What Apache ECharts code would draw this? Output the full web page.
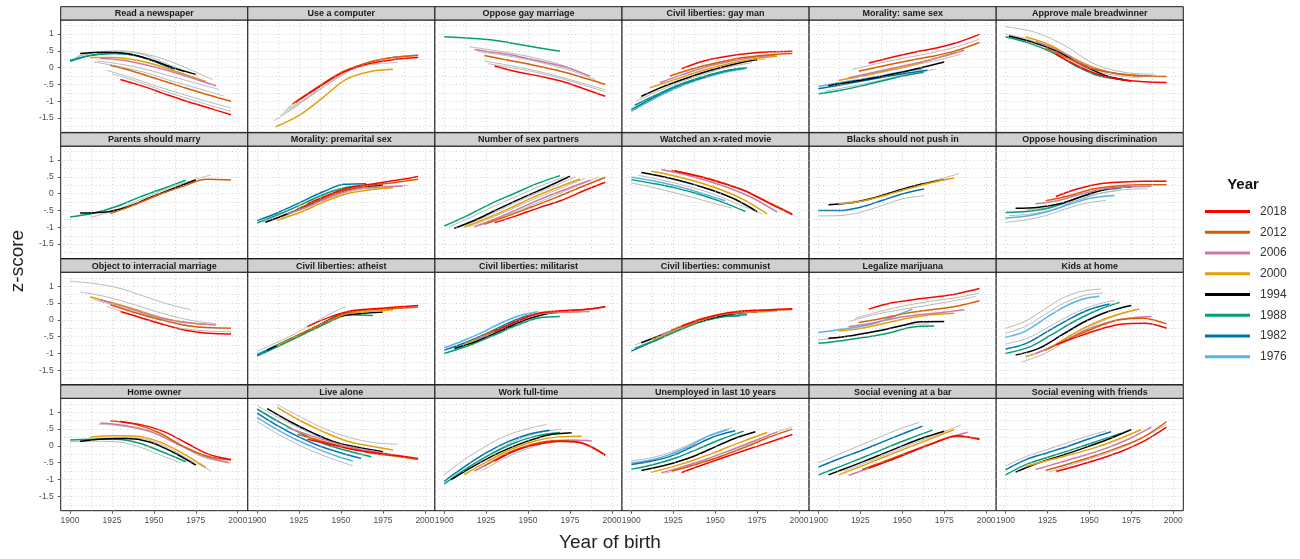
<!DOCTYPE html>
<html><head><meta charset="utf-8">
<script src="https://cdn.jsdelivr.net/npm/echarts@6/dist/echarts.min.js"></script>
<style>html,body{margin:0;padding:0;background:#fff}#c{width:1300px;height:559px}</style>
</head><body><div id="c"></div>
<script>
const panelTitles = [
 'Read a newspaper','Use a computer','Oppose gay marriage','Civil liberties: gay man','Morality: same sex','Approve male breadwinner',
 'Parents should marry','Morality: premarital sex','Number of sex partners','Watched an x-rated movie','Blacks should not push in','Oppose housing discrimination',
 'Object to interracial marriage','Civil liberties: atheist','Civil liberties: militarist','Civil liberties: communist','Legalize marijuana','Kids at home',
 'Home owner','Live alone','Work full-time','Unemployed in last 10 years','Social evening at a bar','Social evening with friends'];
const highlightYears = [2018,2012,2006,2000,1994,1988,1982,1976];
const xTicks = [1900,1925,1950,1975,2000];
const yTicks = [-1.5,-1,-0.5,0,0.5,1];
const yTickLabels = ['-1.5','-1','-.5','0','.5','1'];

// each line: [survey year, first birth year, last birth year, z-scores at evenly spaced birth years]
const readNewspaper = [
 [1974,1903,1972,[0.3,0.47,0.5,0.38,0.1,-0.15]],
 [1985,1905,1985,[0.35,0.48,0.46,0.3,0.0,-0.36]],
 [2004,1916,1989,[0.2,0.1,-0.05,-0.25,-0.45,-0.65]],
 [2008,1914,1992,[0.17,0.03,-0.15,-0.4,-0.62,-0.85]],
 [2014,1922,1996,[-0.08,-0.3,-0.55,-0.78,-1.0,-1.2]],
 [2016,1925,1996,[-0.18,-0.4,-0.65,-0.88,-1.1,-1.3]],
 [1982,1900,1962,[0.19,0.36,0.42,0.38,0.2,-0.05]],
 [1988,1900,1968,[0.22,0.38,0.43,0.34,0.12,-0.12]],
 [1994,1906,1975,[0.42,0.46,0.42,0.25,0.0,-0.2]],
 [2000,1912,1981,[0.3,0.3,0.22,0.05,-0.18,-0.41]],
 [2006,1918,1987,[0.28,0.22,0.08,-0.1,-0.32,-0.54]],
 [2012,1924,1996,[0.07,-0.12,-0.35,-0.58,-0.8,-1.0]],
 [2018,1930,1996,[-0.35,-0.55,-0.78,-1.0,-1.2,-1.4]]
];
const useComputer = [
 [1985,1910,1984,[-1.58,-1.1,-0.5,-0.08,0.1,0.15]],
 [2004,1914,1996,[-1.41,-0.9,-0.35,0.1,0.3,0.38]],
 [2014,1916,1996,[-1.3,-0.82,-0.28,0.12,0.3,0.37]],
 [2016,1918,1996,[-1.2,-0.7,-0.2,0.14,0.3,0.38]],
 [2000,1911,1981,[-1.76,-1.42,-0.9,-0.35,-0.12,-0.05]],
 [2012,1921,1996,[-1.08,-0.58,-0.12,0.15,0.3,0.36]],
 [2018,1923,1996,[-1.03,-0.55,-0.12,0.12,0.24,0.3]]
];
const opposeGayMarriage = [
 [2004,1915,1986,[0.62,0.52,0.4,0.25,0.05,-0.23]],
 [2008,1920,1990,[0.48,0.38,0.26,0.1,-0.1,-0.35]],
 [2014,1924,1996,[0.2,0.07,-0.07,-0.25,-0.45,-0.66]],
 [2016,1926,1996,[0.12,0.0,-0.13,-0.3,-0.5,-0.72]],
 [1988,1900,1969,[0.92,0.88,0.83,0.72,0.6,0.49]],
 [2006,1918,1987,[0.54,0.44,0.32,0.17,0.0,-0.26]],
 [2012,1924,1996,[0.36,0.22,0.08,-0.08,-0.28,-0.5]],
 [2018,1930,1996,[0.05,-0.12,-0.25,-0.4,-0.62,-0.85]]
];
const civLibGayMan = [
 [1974,1903,1972,[-1.0,-0.68,-0.4,-0.18,0.02,0.15]],
 [1985,1905,1980,[-0.9,-0.55,-0.28,-0.05,0.15,0.25]],
 [1976,1900,1968,[-1.3,-0.92,-0.6,-0.35,-0.15,-0.03]],
 [1982,1900,1965,[-1.25,-0.9,-0.58,-0.35,-0.15,-0.02]],
 [1988,1902,1969,[-1.12,-0.8,-0.5,-0.28,-0.1,0.0]],
 [1994,1906,1975,[-0.85,-0.55,-0.3,-0.08,0.1,0.24]],
 [2000,1911,1987,[-0.6,-0.35,-0.1,0.1,0.25,0.35]],
 [2006,1917,1986,[-0.45,-0.2,0.02,0.18,0.3,0.38]],
 [2012,1923,1996,[-0.25,-0.02,0.16,0.3,0.38,0.42]],
 [2018,1930,1996,[-0.03,0.2,0.33,0.42,0.47,0.49]]
];
const moralitySameSex = [
 [1974,1904,1970,[-0.7,-0.58,-0.45,-0.3,-0.15,-0.05]],
 [1991,1915,1985,[-0.35,-0.22,-0.08,0.08,0.22,0.4]],
 [2016,1920,1996,[-0.05,0.12,0.28,0.42,0.6,0.85]],
 [1976,1900,1962,[-0.56,-0.45,-0.35,-0.25,-0.12,-0.05]],
 [1982,1900,1965,[-0.63,-0.52,-0.4,-0.28,-0.17,-0.08]],
 [1988,1900,1963,[-0.78,-0.68,-0.55,-0.4,-0.25,-0.14]],
 [1994,1906,1975,[-0.53,-0.42,-0.3,-0.16,0.0,0.17]],
 [2000,1912,1982,[-0.38,-0.25,-0.1,0.05,0.25,0.47]],
 [2006,1918,1987,[-0.3,-0.15,0.0,0.15,0.32,0.52]],
 [2012,1924,1996,[-0.11,0.05,0.2,0.33,0.5,0.75]],
 [2018,1930,1996,[0.14,0.3,0.45,0.58,0.75,0.99]]
];
const approveBreadwinner = [
 [1972,1900,1989,[1.22,1.05,0.65,0.1,-0.14,-0.2]],
 [1985,1900,1980,[1.0,0.8,0.42,0.0,-0.22,-0.3]],
 [1988,1900,1970,[0.92,0.73,0.45,0.05,-0.25,-0.34]],
 [1994,1902,1975,[0.94,0.75,0.48,0.08,-0.25,-0.4]],
 [2000,1912,1982,[0.92,0.68,0.3,-0.02,-0.2,-0.27]],
 [2006,1918,1988,[0.78,0.5,0.12,-0.12,-0.22,-0.26]],
 [2012,1924,1996,[0.58,0.25,-0.05,-0.18,-0.24,-0.26]],
 [2018,1930,1996,[0.4,0.05,-0.22,-0.36,-0.42,-0.44]]
];
const parentsMarry = [
 [2002,1912,1984,[-0.71,-0.5,-0.2,0.1,0.35,0.56]],
 [1988,1900,1969,[-0.69,-0.58,-0.38,-0.1,0.15,0.4]],
 [1994,1906,1975,[-0.57,-0.55,-0.4,-0.12,0.15,0.41]],
 [2012,1924,1996,[-0.59,-0.33,-0.03,0.22,0.43,0.41]]
];
const moralityPremarital = [
 [1974,1903,1972,[-0.85,-0.55,-0.22,0.08,0.2,0.22]],
 [1991,1915,1990,[-0.7,-0.4,-0.1,0.12,0.18,0.25]],
 [1982,1900,1965,[-0.8,-0.55,-0.25,0.05,0.28,0.3]],
 [1988,1900,1968,[-0.87,-0.6,-0.3,0.0,0.2,0.24]],
 [1994,1905,1975,[-0.85,-0.58,-0.28,0.02,0.18,0.26]],
 [2000,1912,1981,[-0.79,-0.55,-0.25,0.0,0.12,0.18]],
 [2006,1918,1987,[-0.6,-0.35,-0.05,0.15,0.2,0.23]],
 [2012,1924,1996,[-0.45,-0.15,0.12,0.25,0.33,0.43]],
 [2018,1930,1996,[-0.3,-0.02,0.2,0.3,0.4,0.51]]
];
const sexPartners = [
 [1991,1903,1972,[-0.98,-0.68,-0.35,-0.05,0.25,0.5]],
 [1996,1909,1978,[-1.0,-0.72,-0.4,-0.08,0.2,0.5]],
 [2002,1915,1984,[-0.98,-0.7,-0.4,-0.1,0.18,0.46]],
 [2010,1921,1992,[-0.95,-0.68,-0.4,-0.1,0.2,0.5]],
 [1988,1900,1969,[-0.96,-0.65,-0.3,0.0,0.3,0.54]],
 [1994,1906,1975,[-1.03,-0.75,-0.42,-0.1,0.2,0.52]],
 [2000,1912,1981,[-0.99,-0.72,-0.42,-0.1,0.18,0.44]],
 [2006,1918,1987,[-0.98,-0.72,-0.42,-0.12,0.15,0.4]],
 [2012,1924,1996,[-0.91,-0.65,-0.38,-0.1,0.2,0.49]],
 [2018,1930,1996,[-0.86,-0.65,-0.42,-0.2,0.08,0.34]]
];
const xRatedMovie = [
 [1973,1900,1960,[0.32,0.2,0.05,-0.1,-0.27,-0.43]],
 [1991,1904,1978,[0.55,0.4,0.22,0.0,-0.3,-0.6]],
 [1976,1900,1956,[0.49,0.4,0.28,0.14,-0.03,-0.21]],
 [1988,1900,1968,[0.42,0.3,0.16,-0.02,-0.25,-0.53]],
 [1994,1906,1975,[0.63,0.5,0.33,0.12,-0.15,-0.53]],
 [2000,1912,1981,[0.67,0.53,0.35,0.12,-0.18,-0.6]],
 [2006,1918,1987,[0.72,0.57,0.38,0.15,-0.15,-0.55]],
 [2012,1924,1996,[0.7,0.55,0.35,0.1,-0.25,-0.6]],
 [2018,1926,1996,[0.68,0.52,0.32,0.08,-0.28,-0.62]]
];
const blacksPushIn = [
 [1977,1900,1963,[-0.66,-0.65,-0.55,-0.35,-0.15,-0.06]],
 [2002,1913,1984,[-0.28,-0.18,0.0,0.22,0.4,0.6]],
 [1982,1900,1963,[-0.5,-0.5,-0.4,-0.2,0.0,0.14]],
 [1994,1906,1975,[-0.33,-0.27,-0.12,0.1,0.28,0.42]],
 [2000,1912,1981,[-0.3,-0.22,-0.05,0.15,0.33,0.47]]
];
const opposeHousingDiscrim = [
 [1973,1900,1960,[-0.85,-0.78,-0.65,-0.45,-0.28,-0.2]],
 [1976,1900,1965,[-0.72,-0.66,-0.52,-0.3,-0.12,-0.05]],
 [1980,1902,1968,[-0.65,-0.6,-0.46,-0.22,0.0,0.1]],
 [1998,1912,1985,[-0.48,-0.4,-0.22,0.0,0.12,0.15]],
 [1988,1900,1969,[-0.56,-0.52,-0.4,-0.15,0.08,0.17]],
 [1994,1906,1975,[-0.43,-0.4,-0.28,-0.05,0.15,0.2]],
 [2006,1918,1987,[-0.3,-0.2,0.0,0.15,0.2,0.22]],
 [2012,1924,1996,[-0.21,-0.05,0.15,0.24,0.27,0.27]],
 [2018,1930,1996,[-0.08,0.15,0.3,0.35,0.37,0.37]]
];
const interracialMarriage = [
 [1972,1900,1972,[1.15,1.08,0.95,0.72,0.48,0.3]],
 [1985,1906,1987,[0.83,0.68,0.45,0.2,0.0,-0.12]],
 [2002,1914,1990,[0.6,0.4,0.15,-0.05,-0.2,-0.25]],
 [2016,1922,1996,[0.4,0.15,-0.08,-0.25,-0.33,-0.35]],
 [2000,1912,1981,[0.68,0.5,0.3,0.08,-0.07,-0.13]],
 [2006,1918,1987,[0.6,0.4,0.18,0.0,-0.1,-0.15]],
 [2012,1924,1996,[0.45,0.22,0.02,-0.15,-0.23,-0.25]],
 [2018,1930,1996,[0.25,0.05,-0.15,-0.32,-0.4,-0.42]]
];
const civLibAtheist = [
 [1972,1900,1953,[-0.93,-0.7,-0.45,-0.15,0.15,0.4]],
 [1976,1900,1956,[-1.02,-0.76,-0.5,-0.24,0.05,0.27]],
 [1982,1900,1962,[-1.05,-0.76,-0.46,-0.15,0.15,0.22]],
 [1988,1900,1969,[-1.08,-0.76,-0.43,-0.1,0.15,0.13]],
 [1994,1906,1975,[-0.9,-0.57,-0.24,0.08,0.18,0.23]],
 [2000,1912,1981,[-0.76,-0.43,-0.1,0.18,0.25,0.3]],
 [2012,1924,1996,[-0.47,-0.13,0.2,0.3,0.34,0.38]],
 [2018,1930,1996,[-0.2,0.08,0.27,0.33,0.38,0.43]]
];
const civLibMilitarist = [
 [1976,1900,1956,[-0.83,-0.62,-0.38,-0.1,0.12,0.25]],
 [1982,1900,1962,[-0.9,-0.68,-0.42,-0.12,0.12,0.22]],
 [1988,1900,1969,[-1.0,-0.78,-0.5,-0.2,0.05,0.1]],
 [1994,1906,1975,[-0.85,-0.62,-0.32,-0.02,0.18,0.25]],
 [2000,1912,1981,[-0.72,-0.45,-0.12,0.15,0.22,0.24]],
 [2006,1918,1987,[-0.6,-0.3,0.0,0.2,0.23,0.25]],
 [2012,1924,1996,[-0.45,-0.15,0.15,0.25,0.3,0.38]],
 [2018,1930,1996,[-0.35,-0.05,0.2,0.27,0.3,0.4]]
];
const civLibCommunist = [
 [1977,1902,1977,[-0.75,-0.45,-0.15,0.1,0.25,0.3]],
 [1982,1900,1965,[-0.93,-0.65,-0.35,-0.08,0.08,0.12]],
 [1988,1902,1969,[-0.85,-0.58,-0.3,-0.05,0.1,0.15]],
 [1994,1906,1975,[-0.68,-0.42,-0.15,0.05,0.18,0.23]],
 [2000,1912,1981,[-0.6,-0.32,-0.05,0.15,0.22,0.25]],
 [2006,1918,1987,[-0.45,-0.18,0.05,0.2,0.25,0.27]],
 [2012,1924,1996,[-0.3,-0.05,0.15,0.25,0.28,0.31]],
 [2018,1930,1996,[-0.18,0.05,0.2,0.27,0.3,0.33]]
];
const legalizeMarijuana = [
 [1984,1900,1966,[-0.6,-0.52,-0.4,-0.28,-0.15,-0.12]],
 [2010,1918,1994,[-0.05,0.15,0.3,0.42,0.55,0.7]],
 [2016,1922,1996,[0.05,0.25,0.42,0.55,0.65,0.8]],
 [1976,1900,1956,[-0.38,-0.3,-0.22,-0.1,0.1,0.32]],
 [1988,1900,1969,[-0.7,-0.62,-0.52,-0.4,-0.22,-0.18]],
 [1994,1906,1975,[-0.55,-0.47,-0.35,-0.2,-0.06,-0.05]],
 [2000,1912,1981,[-0.33,-0.25,-0.1,0.05,0.15,0.2]],
 [2006,1918,1987,[-0.2,-0.1,0.05,0.15,0.22,0.3]],
 [2012,1924,1996,[-0.08,0.05,0.2,0.3,0.4,0.57]],
 [2018,1930,1996,[0.32,0.5,0.6,0.68,0.78,0.93]]
];
const kidsAtHome = [
 [1972,1900,1957,[-0.25,-0.05,0.3,0.65,0.85,0.92]],
 [1974,1900,1958,[-0.4,-0.2,0.15,0.5,0.72,0.8]],
 [1985,1900,1965,[-0.72,-0.55,-0.2,0.15,0.42,0.58]],
 [1998,1910,1978,[-1.25,-1.0,-0.6,-0.2,0.1,0.3]],
 [1976,1900,1956,[-0.52,-0.35,0.0,0.35,0.6,0.7]],
 [1982,1900,1962,[-0.87,-0.7,-0.35,0.0,0.3,0.47]],
 [1988,1900,1968,[-1.0,-0.82,-0.45,-0.05,0.28,0.52]],
 [1994,1906,1975,[-1.05,-0.85,-0.45,-0.05,0.25,0.43]],
 [2000,1912,1980,[-1.1,-0.85,-0.45,-0.1,0.15,0.32]],
 [2006,1918,1987,[-1.0,-0.7,-0.35,-0.1,0.05,0.1]],
 [2012,1924,1996,[-0.9,-0.55,-0.25,0.0,0.05,-0.12]],
 [2018,1930,1996,[-0.75,-0.5,-0.28,-0.12,-0.1,-0.25]]
];
const homeOwner = [
 [1985,1900,1966,[0.12,0.14,0.13,0.0,-0.25,-0.5]],
 [2004,1915,1984,[0.22,0.25,0.22,0.0,-0.38,-0.74]],
 [2010,1917,1996,[0.65,0.58,0.4,0.05,-0.35,-0.5]],
 [1988,1900,1969,[0.18,0.2,0.2,0.08,-0.18,-0.47]],
 [1994,1906,1975,[0.14,0.21,0.22,0.12,-0.18,-0.57]],
 [2000,1912,1981,[0.26,0.3,0.29,0.12,-0.22,-0.64]],
 [2006,1918,1995,[0.68,0.6,0.42,0.05,-0.3,-0.5]],
 [2012,1924,1996,[0.75,0.65,0.4,0.0,-0.3,-0.42]],
 [2018,1930,1996,[0.73,0.62,0.42,0.08,-0.25,-0.4]]
];
const liveAlone = [
 [1986,1912,1984,[1.23,0.85,0.5,0.25,0.1,0.05]],
 [1973,1900,1957,[0.73,0.38,0.08,-0.18,-0.4,-0.59]],
 [1991,1900,1972,[1.2,0.8,0.45,0.15,-0.05,-0.2]],
 [1976,1900,1957,[0.85,0.5,0.2,-0.05,-0.27,-0.45]],
 [1982,1900,1962,[0.98,0.6,0.27,0.0,-0.2,-0.37]],
 [1988,1900,1968,[1.1,0.7,0.35,0.05,-0.15,-0.32]],
 [1994,1906,1975,[1.11,0.72,0.38,0.1,-0.05,-0.17]],
 [2000,1912,1981,[1.15,0.75,0.42,0.15,0.0,-0.12]],
 [2006,1918,1990,[0.55,0.3,0.08,-0.1,-0.22,-0.35]],
 [2012,1924,1996,[0.35,0.15,-0.05,-0.2,-0.3,-0.4]],
 [2018,1930,1996,[0.2,0.05,-0.1,-0.2,-0.28,-0.37]]
];
const workFullTime = [
 [1978,1900,1961,[-0.85,-0.4,-0.02,0.3,0.5,0.64]],
 [1990,1906,1970,[-0.95,-0.5,-0.12,0.2,0.4,0.5]],
 [2016,1922,1996,[-0.75,-0.35,-0.05,0.12,0.1,-0.25]],
 [1982,1900,1963,[-1.05,-0.6,-0.2,0.12,0.35,0.47]],
 [1988,1900,1969,[-1.13,-0.65,-0.25,0.08,0.3,0.4]],
 [1994,1904,1976,[-1.01,-0.58,-0.2,0.1,0.32,0.39]],
 [2000,1912,1982,[-0.85,-0.45,-0.1,0.15,0.27,0.29]],
 [2006,1918,1988,[-0.75,-0.38,-0.08,0.1,0.18,0.15]],
 [2012,1924,1996,[-0.6,-0.2,0.05,0.16,0.1,-0.27]],
 [2018,1930,1996,[-0.45,-0.12,0.06,0.14,0.07,-0.28]]
];
const unemployed10 = [
 [1977,1900,1960,[-0.45,-0.35,-0.18,0.08,0.35,0.55]],
 [2014,1920,1996,[-0.82,-0.6,-0.35,-0.05,0.3,0.57]],
 [1976,1900,1958,[-0.51,-0.42,-0.25,0.0,0.3,0.49]],
 [1982,1900,1962,[-0.55,-0.45,-0.28,0.0,0.28,0.45]],
 [1988,1900,1967,[-0.69,-0.55,-0.35,-0.08,0.2,0.44]],
 [1994,1906,1974,[-0.73,-0.58,-0.38,-0.1,0.2,0.42]],
 [2000,1912,1981,[-0.78,-0.6,-0.38,-0.12,0.15,0.4]],
 [2006,1918,1987,[-0.8,-0.6,-0.38,-0.12,0.15,0.42]],
 [2012,1924,1996,[-0.75,-0.55,-0.32,-0.05,0.25,0.5]],
 [2018,1930,1996,[-0.79,-0.55,-0.32,-0.1,0.12,0.34]]
];
const eveningBar = [
 [1974,1900,1960,[-0.5,-0.25,0.0,0.25,0.5,0.7]],
 [2002,1915,1985,[-0.75,-0.48,-0.2,0.08,0.35,0.62]],
 [1982,1900,1962,[-0.63,-0.38,-0.15,0.1,0.35,0.59]],
 [1988,1900,1968,[-0.86,-0.6,-0.33,-0.05,0.22,0.47]],
 [1994,1906,1975,[-0.86,-0.6,-0.33,-0.05,0.22,0.44]],
 [2000,1912,1981,[-0.86,-0.6,-0.32,-0.05,0.22,0.49]],
 [2006,1918,1989,[-0.88,-0.62,-0.35,-0.08,0.2,0.41]],
 [2012,1926,1996,[-0.7,-0.45,-0.18,0.08,0.28,0.22]],
 [2018,1930,1996,[-0.66,-0.42,-0.15,0.1,0.3,0.19]]
];
const eveningFriends = [
 [1974,1900,1960,[-0.6,-0.32,-0.12,0.08,0.28,0.45]],
 [2016,1926,1996,[-0.78,-0.55,-0.33,-0.08,0.25,0.64]],
 [1982,1900,1963,[-0.71,-0.4,-0.2,0.0,0.22,0.42]],
 [1988,1900,1969,[-0.86,-0.52,-0.3,-0.08,0.15,0.38]],
 [1994,1906,1975,[-0.78,-0.5,-0.28,-0.05,0.2,0.49]],
 [2000,1912,1981,[-0.61,-0.42,-0.25,-0.05,0.2,0.49]],
 [2006,1918,1987,[-0.7,-0.5,-0.3,-0.08,0.2,0.56]],
 [2012,1924,1996,[-0.73,-0.52,-0.3,-0.05,0.25,0.72]],
 [2018,1930,1996,[-0.76,-0.58,-0.38,-0.15,0.15,0.56]]
];

const panelData = [readNewspaper,useComputer,opposeGayMarriage,civLibGayMan,moralitySameSex,approveBreadwinner,
 parentsMarry,moralityPremarital,sexPartners,xRatedMovie,blacksPushIn,opposeHousingDiscrim,
 interracialMarriage,civLibAtheist,civLibMilitarist,civLibCommunist,legalizeMarijuana,kidsAtHome,
 homeOwner,liveAlone,workFullTime,unemployed10,eveningBar,eveningFriends];

// ---- styles / layout ----
const yearColor = {2018:'#FF0000',2012:'#D55E00',2006:'#CC79A7',2000:'#E69F00',1994:'#000000',1988:'#009E73',1982:'#0072B2',1976:'#56B4E9'};
const GRAY = '#a8a8a8';
const L0 = 60.7, CW = 187.1, T0 = 6.7, RP = 126.1, SH = 13.3, PH = 112.4;
const XMIN = 1894.45, XMAX = 2006.0, YMIN = -1.927, YMAX = 1.418;
const NARROW = '"Liberation Sans Narrow","Liberation Sans",Arial,sans-serif';
const SANS = '"Liberation Sans",Arial,sans-serif';
const xGridVals = [], yGridVals = [];
for (let v = 1900; v <= 2000; v += 12.5) xGridVals.push(v);
for (let v = -1.75; v <= 1.26; v += 0.25) yGridVals.push(Math.round(v*100)/100);

const grids = [], xAxes = [], yAxes = [], series = [], graphics = [];
panelData.forEach((lines, p) => {
  const r = Math.floor(p/6), c = p%6;
  const left = L0 + c*CW, stripTop = T0 + r*RP, top = stripTop + SH;
  const bottomRow = r === 3, leftCol = c === 0;
  grids.push({left, top, width: CW, height: PH, show: true, borderColor: '#1a1a1a', borderWidth: 1, backgroundColor: '#fff', containLabel: false});
  xAxes.push({type: 'value', gridIndex: p, min: XMIN, max: XMAX, position: 'bottom',
    axisLine: {show: false, onZero: false}, splitLine: {show: false},
    axisTick: {show: bottomRow, customValues: xTicks, length: 3, lineStyle: {color: '#333', width: 0.8}},
    axisLabel: {show: bottomRow, customValues: xTicks, fontSize: 8.5, color: '#4d4d4d', margin: 5, fontFamily: NARROW, formatter: v => String(v)}});
  yAxes.push({type: 'value', gridIndex: p, min: YMIN, max: YMAX, position: 'left',
    axisLine: {show: false, onZero: false}, splitLine: {show: false},
    axisTick: {show: leftCol, customValues: yTicks, length: 3, lineStyle: {color: '#333', width: 0.8}},
    axisLabel: {show: leftCol, customValues: yTicks, fontSize: 8.5, color: '#4d4d4d', margin: 7, fontFamily: NARROW,
      formatter: v => { const i = yTicks.findIndex(t => Math.abs(t - v) < 1e-6); return i >= 0 ? yTickLabels[i] : ''; }}});
  // dotted grid lines
  series.push({type: 'line', xAxisIndex: p, yAxisIndex: p, data: [], silent: true, animation: false, z: 1,
    markLine: {silent: true, symbol: 'none', animation: false, label: {show: false},
      lineStyle: {type: [1, 2.5], color: '#bdbdbd', width: 0.7},
      emphasis: {disabled: true},
      data: xGridVals.map(v => ({xAxis: v})).concat(yGridVals.map(v => ({yAxis: v})))}});
  const sorted = lines.slice().sort((a, b) => {
    const ha = yearColor[a[0]] ? 1 : 0, hb = yearColor[b[0]] ? 1 : 0;
    return ha - hb || a[0] - b[0];
  });
  sorted.forEach(line => {
    const [yr, a, b, vals] = line;
    const col = yearColor[yr];
    const n = vals.length;
    const data = vals.map((v, i) => [a + (b - a) * i / (n - 1), v]);
    series.push({type: 'line', name: col ? String(yr) : 'other' + yr, xAxisIndex: p, yAxisIndex: p, data,
      smooth: 0.35, symbol: 'none', showSymbol: false, silent: true, animation: false,
      color: col || GRAY, itemStyle: {color: col || GRAY},
      lineStyle: {color: col || GRAY, width: col ? 1.5 : 0.8}, z: col ? 3 : 2});
  });
  graphics.push({type: 'rect', shape: {x: left, y: stripTop, width: CW, height: SH},
    style: {fill: '#d0d0d0', stroke: '#1a1a1a', lineWidth: 1}, z: 10});
  graphics.push({type: 'text', x: left + CW/2, y: stripTop + SH/2 + 0.5,
    style: {text: panelTitles[p], fontSize: 9, fontWeight: 'bold', fontFamily: SANS, fill: '#1a1a1a', align: 'center', verticalAlign: 'middle'}, z: 11});
});
graphics.push({type: 'text', x: 18, y: 261, rotation: Math.PI/2,
  style: {text: 'z-score', fontSize: 19, fontFamily: SANS, fill: '#222', align: 'center', verticalAlign: 'middle'}});
graphics.push({type: 'text', x: 610, y: 543,
  style: {text: 'Year of birth', fontSize: 19, fontFamily: SANS, fill: '#222', align: 'center', verticalAlign: 'middle'}});
graphics.push({type: 'text', x: 1243, y: 185,
  style: {text: 'Year', fontSize: 15, fontWeight: 'bold', fontFamily: SANS, fill: '#111', align: 'center', verticalAlign: 'middle'}});

const chart = echarts.init(document.getElementById('c'), null, {renderer: 'canvas'});
chart.setOption({
  animation: false,
  backgroundColor: '#fff',
  grid: grids, xAxis: xAxes, yAxis: yAxes, series,
  graphic: graphics,
  legend: {data: highlightYears.map(String), orient: 'vertical', left: 1200, top: 199.5,
    itemWidth: 45, itemHeight: 3, itemGap: 6.75, icon: 'rect', selectedMode: false,
    textStyle: {fontSize: 12, color: '#333', lineHeight: 14, fontFamily: SANS, padding: [0, 0, 0, 5]}}
});
</script></body></html>
